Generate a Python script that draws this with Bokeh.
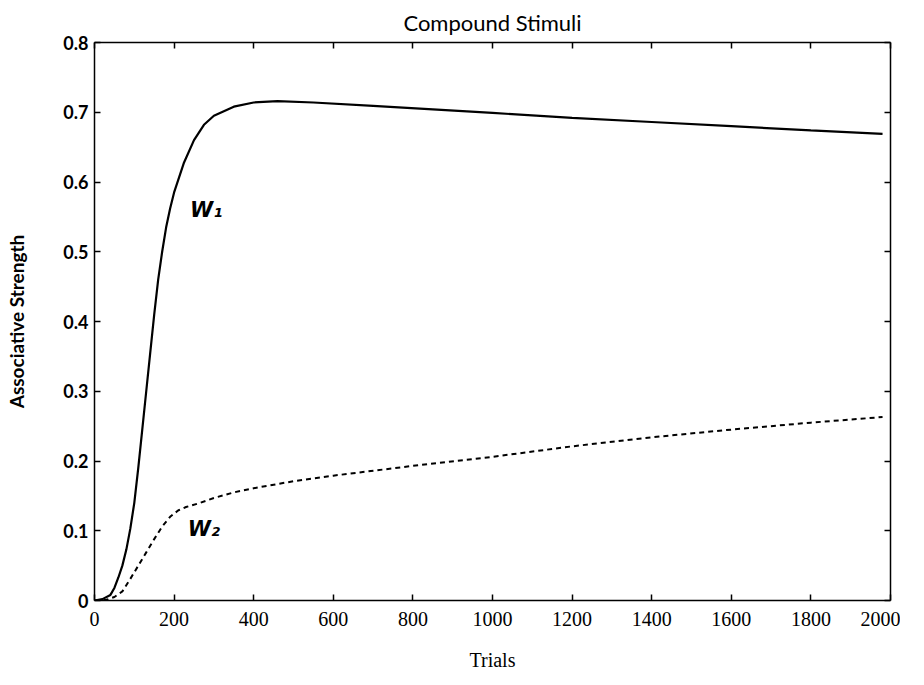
from bokeh.plotting import figure
from bokeh.models import LinearAxis, FixedTicker
from bokeh.core.properties import value
from bokeh.embed import file_html
from bokeh.resources import INLINE

# ---- data ----
w1_trials = [0, 20, 40, 50, 60, 70, 80, 90, 100, 110, 120, 130, 140, 150, 160, 170,
             180, 190, 200, 225, 250, 275, 300, 350, 400, 460, 550, 700, 850, 1000,
             1200, 1400, 1600, 1800, 1980]
w1_values = [0, 0.002, 0.008, 0.018, 0.033, 0.05, 0.073, 0.103, 0.14, 0.19, 0.245,
             0.30, 0.355, 0.41, 0.46, 0.50, 0.535, 0.562, 0.585, 0.628, 0.66, 0.682,
             0.695, 0.708, 0.714, 0.716, 0.714, 0.709, 0.704, 0.699, 0.692, 0.686,
             0.680, 0.674, 0.669]

w2_trials = [0, 30, 50, 70, 90, 110, 130, 150, 170, 190, 210, 230, 260, 300, 350,
             400, 500, 600, 800, 1000, 1200, 1400, 1600, 1800, 1980]
w2_values = [0, 0.001, 0.005, 0.013, 0.031, 0.05, 0.069, 0.088, 0.106, 0.12, 0.129,
             0.134, 0.139, 0.147, 0.155, 0.161, 0.171, 0.179, 0.193, 0.206, 0.221,
             0.234, 0.245, 0.255, 0.263]

label_x = [240, 234]
label_y = [0.56, 0.103]
label_text = ["W\u2081", "W\u2082"]

x_ticks = [0, 200, 400, 600, 800, 1000, 1200, 1400, 1600, 1800, 2000]
y_ticks = [0, 0.1, 0.2, 0.3, 0.4, 0.5, 0.6, 0.7, 0.8]
y_tick_labels = ["0", "0.1", "0.2", "0.3", "0.4", "0.5", "0.6", "0.7", "0.8"]

title_text = "Compound Stimuli"
x_title = "Trials"
y_title = "Associative Strength"

# ---- figure ----
p = figure(width=900, height=677, x_range=(0, 2000), y_range=(0, 0.8),
           output_backend="svg", toolbar_location=None,
           min_border_left=94, min_border_right=10, min_border_top=37,
           min_border_bottom=77, x_axis_location=None, y_axis_location=None)
p.outline_line_color = None
p.grid.visible = False
p.background_fill_color = "white"
p.border_fill_color = "white"

p.title.text = title_text
p.title.align = "center"
p.title.text_font = "Lato"
p.title.text_font_size = "22px"
p.title.text_font_style = "normal"
p.title.text_color = "black"
p.title.standoff = 13

def style_axis(ax, ticks):
    ax.ticker = FixedTicker(ticks=ticks)
    ax.axis_line_color = "black"
    ax.axis_line_width = 1.5
    ax.major_tick_in = 6
    ax.major_tick_out = 0
    ax.major_tick_line_color = "black"
    ax.major_tick_line_width = 1.5
    ax.minor_tick_line_color = None

xb = LinearAxis(axis_label=x_title)
style_axis(xb, x_ticks)
xb.major_label_text_font = "Liberation Serif"
xb.major_label_text_font_size = "20px"
xb.major_label_text_color = "black"
xb.major_label_standoff = 11
xb.axis_label_text_font = "Liberation Serif"
xb.axis_label_text_font_size = "20px"
xb.axis_label_text_font_style = "normal"
xb.axis_label_text_color = "black"
xb.axis_label_standoff = 20
p.add_layout(xb, "below")

yl = LinearAxis(axis_label=y_title)
style_axis(yl, y_ticks)
yl.major_label_overrides = {t: s for t, s in zip(y_ticks, y_tick_labels)}
yl.major_label_text_font = "Lato"
yl.major_label_text_font_style = "bold"
yl.major_label_text_font_size = "18px"
yl.major_label_text_color = "black"
yl.major_label_standoff = 6
yl.axis_label_text_font = "Lato"
yl.axis_label_text_font_style = "bold"
yl.axis_label_text_font_size = "19px"
yl.axis_label_text_color = "black"
yl.axis_label_standoff = 32
p.add_layout(yl, "left")

xt = LinearAxis()
style_axis(xt, x_ticks)
xt.major_label_text_font_size = "1px"
xt.major_label_text_color = None
xt.major_label_standoff = 0
p.add_layout(xt, "above")

yr = LinearAxis()
style_axis(yr, y_ticks)
yr.major_label_text_font_size = "1px"
yr.major_label_text_color = None
yr.major_label_standoff = 0
p.add_layout(yr, "right")

p.line(w1_trials, w1_values, line_color="black", line_width=2.2)
p.line(w2_trials, w2_values, line_color="black", line_width=2, line_dash="5 4")

p.text(x=label_x, y=label_y, text=label_text, text_font=value("DejaVu Sans"),
       text_font_style="bold italic", text_font_size="21px", text_color="black",
       text_baseline="middle", text_align="left")

open("out.html", "w").write(file_html(p, INLINE))
